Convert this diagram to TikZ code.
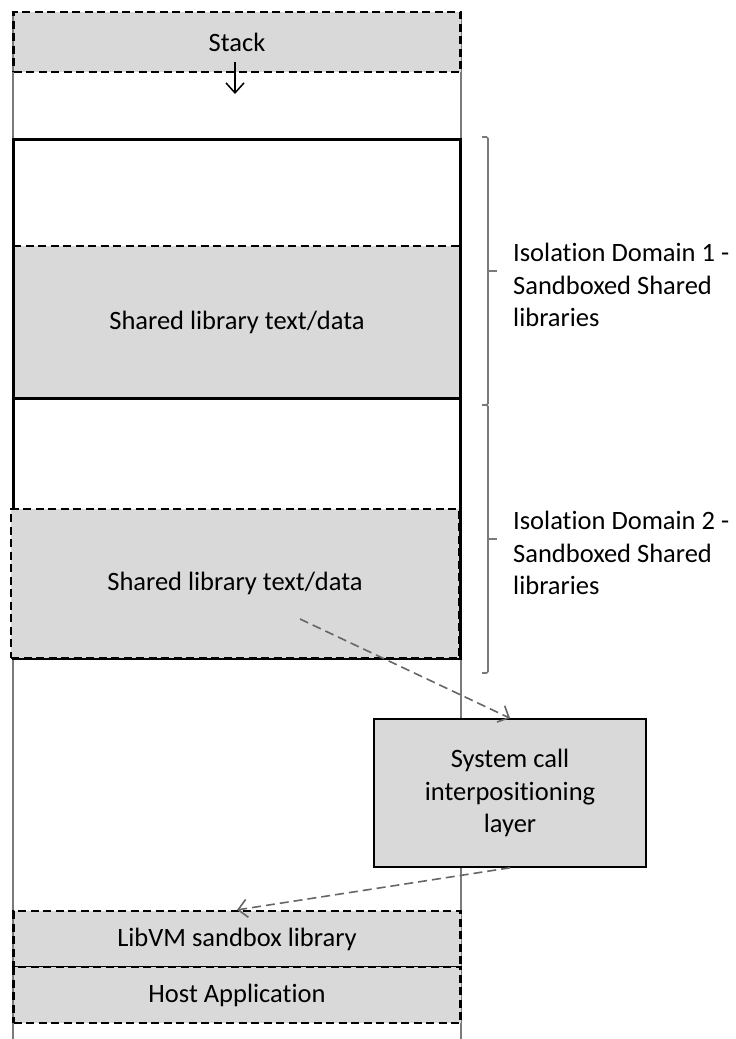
\documentclass[tikz,border=0pt]{standalone}
\usepackage{fontspec}
\setmainfont{Carlito}[Ligatures=NoCommon]
\usetikzlibrary{arrows.meta}
\definecolor{boxfill}{HTML}{D9D9D9}
\definecolor{rule}{HTML}{7A7A7A}
\definecolor{flow}{HTML}{666666}
\tikzset{
  every node/.style={font=\fontsize{26.5}{32.5}\selectfont, inner sep=0pt},
  blockdash/.style={draw=black, line width=2.2pt, dash pattern=on 8pt off 4.5pt},
  colbox/.style={rectangle, minimum width=447pt},
  graybox/.style={colbox, fill=boxfill},
  domainbox/.style={colbox, draw=black, line width=3pt},
  flowarrow/.style={draw=flow, line width=1.6pt, dash pattern=on 9pt off 5pt,
    -{Straight Barb[length=9pt, width=18pt, line width=1.6pt]}},
  bracket/.style={draw=rule, line width=1.6pt, rounded corners=1.5pt},
  sidelabel/.style={anchor=west, align=left},
}
\begin{document}
\begin{tikzpicture}[x=1pt, y=-1pt]
\useasboundingbox (0,0) rectangle (736,1039);

% address-space column
\draw[rule, line width=1.6pt] (13,12) -- (13,1039);
\draw[rule, line width=1.6pt] (461,12) -- (461,1039);

% stack at the top
\node[graybox, blockdash, minimum height=60pt] (stack) at (237,42) {Stack};
\coordinate (growtop) at (235,62);
\coordinate (growend) at (235,94);
\draw[black, line width=1.5pt, -{Straight Barb[length=10pt, width=18pt, line width=1.5pt]}] (growtop) -- (growend);

% isolation domain 1
\node[graybox, minimum height=152pt] (lib1) at (237,322) {Shared library text/data};
\draw[blockdash] (lib1.north west) -- (lib1.north east);
\node[domainbox, minimum height=259pt] (dom1) at (237,268.5) {};

% isolation domain 2
\node[domainbox, minimum height=260pt] (dom2) at (237,528) {};
\node[graybox, blockdash, minimum width=448pt, minimum height=149pt] (lib2) at (235,583.5) {Shared library text/data};

% brackets with domain labels
\coordinate (b1top) at (482,137);
\coordinate (b1bot) at (482,405);
\coordinate (b1mid) at (497,271);
\draw[bracket] (b1top) -- (488,137) -- (488,405) -- (b1bot);
\draw[bracket] (488,271) -- (b1mid);
\node[sidelabel] (dom1label) at (513,285) {Isolation Domain 1 -\\Sandboxed Shared\\libraries};

\coordinate (b2top) at (482,405);
\coordinate (b2bot) at (482,673);
\coordinate (b2mid) at (497,539);
\draw[bracket] (b2top) -- (488,405) -- (488,673) -- (b2bot);
\draw[bracket] (488,539) -- (b2mid);
\node[sidelabel] (dom2label) at (513,553) {Isolation Domain 2 -\\Sandboxed Shared\\libraries};

% system call layer
\node[rectangle, fill=boxfill, draw=black, line width=1.6pt, minimum width=272pt, minimum height=148pt, align=center] (syscall) at (510,793) {System call\\interpositioning\\layer};

% host side
\node[graybox, blockdash, minimum height=56pt] (libvm) at (237,939) {LibVM sandbox library};
\node[graybox, blockdash, minimum height=56pt] (host) at (237,995) {Host Application};

% call flow
\coordinate (callsrc) at (300,619);
\draw[flowarrow] (callsrc) -- (syscall.north);
\draw[flowarrow] (syscall.south) -- (libvm.north);
\end{tikzpicture}
\end{document}
